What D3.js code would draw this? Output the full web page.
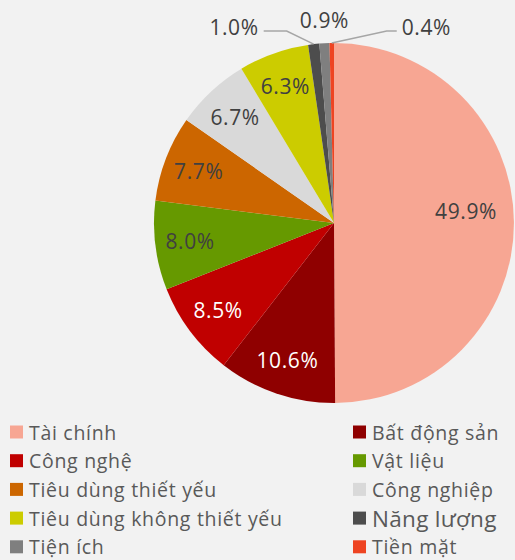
<!DOCTYPE html>
<html>
<head>
<meta charset="utf-8">
<script src="https://cdn.jsdelivr.net/npm/d3@7"></script>
<style>
  html, body { margin: 0; padding: 0; background: #F2F2F2; }
  svg { display: block; }
  text { font-family: "Open Sans", "Noto Sans", sans-serif; }
</style>
</head>
<body>
<svg id="chart" width="515" height="560"></svg>
<script>
const categories = ["Tài chính", "Bất động sản", "Công nghệ", "Vật liệu", "Tiêu dùng thiết yếu",
  "Công nghiệp", "Tiêu dùng không thiết yếu", "Năng lượng", "Tiện ích", "Tiền mặt"];
const values = [49.9, 10.6, 8.5, 8.0, 7.7, 6.7, 6.3, 1.0, 0.9, 0.4];
const colors = ["#F7A693", "#8F0000", "#C00000", "#669900", "#CC6600",
  "#D9D9D9", "#CCCC00", "#4D4D4D", "#7F7F7F", "#EE4422"];

const W = 515, H = 560;
const cx = 334, cy = 223, R = 180;
const svg = d3.select("#chart");
svg.append("rect").attr("width", W).attr("height", H).attr("fill", "#F2F2F2");

const data = categories.map((c, i) => ({ name: c, value: values[i], color: colors[i] }));
const pie = d3.pie().sort(null).value(d => d.value);
const arcs = pie(data);
const arc = d3.arc().innerRadius(0).outerRadius(R);

const g = svg.append("g").attr("transform", `translate(${cx},${cy})`);
g.selectAll("path.slice").data(arcs).enter().append("path")
  .attr("class", "slice")
  .attr("d", arc)
  .attr("fill", d => d.data.color);

function lum(hex) {
  const c = d3.rgb(hex);
  const f = v => { v /= 255; return v <= 0.03928 ? v / 12.92 : Math.pow((v + 0.055) / 1.055, 2.4); };
  return 0.2126 * f(c.r) + 0.7152 * f(c.g) + 0.0722 * f(c.b);
}
const fmt = v => v.toFixed(1) + "%";
const mid = d => (d.startAngle + d.endAngle) / 2;
const labelSize = 21;
const labelSpacing = 0.6;

// inside labels
const inside = arcs.filter(d => d.data.value >= 3);
const labelR = 145;
g.selectAll("text.inlabel").data(inside).enter().append("text")
  .attr("class", "inlabel")
  .attr("x", d => d.data.value > 40 ? labelR - 13 : labelR * Math.sin(mid(d)))
  .attr("y", d => d.data.value > 40 ? -12 : -labelR * Math.cos(mid(d)))
  .attr("text-anchor", "middle")
  .attr("dominant-baseline", "central")
  .attr("font-size", labelSize)
  .attr("letter-spacing", labelSpacing)
  .attr("fill", d => lum(d.data.color) < 0.2 ? "#FFFFFF" : "#404040")
  .text(d => fmt(d.data.value));

// outside labels for small slices: left, top, right
const small = arcs.filter(d => d.data.value < 3);
small.forEach((d, i) => {
  const a = mid(d);
  const ex = R * Math.sin(a), ey = -R * Math.cos(a);
  const side = i === 0 ? -1 : (i === small.length - 1 ? 1 : 0);
  if (side === 0) {
    g.append("text")
      .attr("x", ex).attr("y", -R - 23)
      .attr("text-anchor", "middle").attr("dominant-baseline", "central")
      .attr("font-size", labelSize).attr("letter-spacing", labelSpacing).attr("fill", "#404040")
      .text(fmt(d.data.value));
  } else {
    const elbowX = ex + side * (side < 0 ? 27 : 55);
    const elbowY = -R - 12;
    const endX = elbowX + side * (side < 0 ? 23 : 10);
    g.append("polyline")
      .attr("points", [[ex, ey], [elbowX, elbowY], [endX, elbowY]].map(p => p.join(",")).join(" "))
      .attr("fill", "none").attr("stroke", "#A6A6A6").attr("stroke-width", 1.5);
    g.append("text")
      .attr("x", endX + side * 5).attr("y", elbowY - 4)
      .attr("text-anchor", side < 0 ? "end" : "start").attr("dominant-baseline", "central")
      .attr("font-size", labelSize).attr("letter-spacing", labelSpacing).attr("fill", "#404040")
      .text(fmt(d.data.value));
  }
});

// legend
const legend = svg.append("g");
const colX = [10, 353], rowY0 = 432, rowH = 28.7;
data.forEach((d, i) => {
  const col = i % 2, row = Math.floor(i / 2);
  const x = colX[col], y = rowY0 + row * rowH;
  const big = d.name === "Năng lượng";
  legend.append("rect").attr("x", x).attr("y", y - 6.5).attr("width", 13).attr("height", 13).attr("fill", d.color);
  legend.append("text").attr("x", x + 19).attr("y", y)
    .attr("dominant-baseline", "central")
    .attr("font-size", big ? 22.5 : 19.5)
    .attr("letter-spacing", big ? 0.3 : 0.7)
    .attr("fill", "#595959")
    .text(d.name);
});
</script>
</body>
</html>
